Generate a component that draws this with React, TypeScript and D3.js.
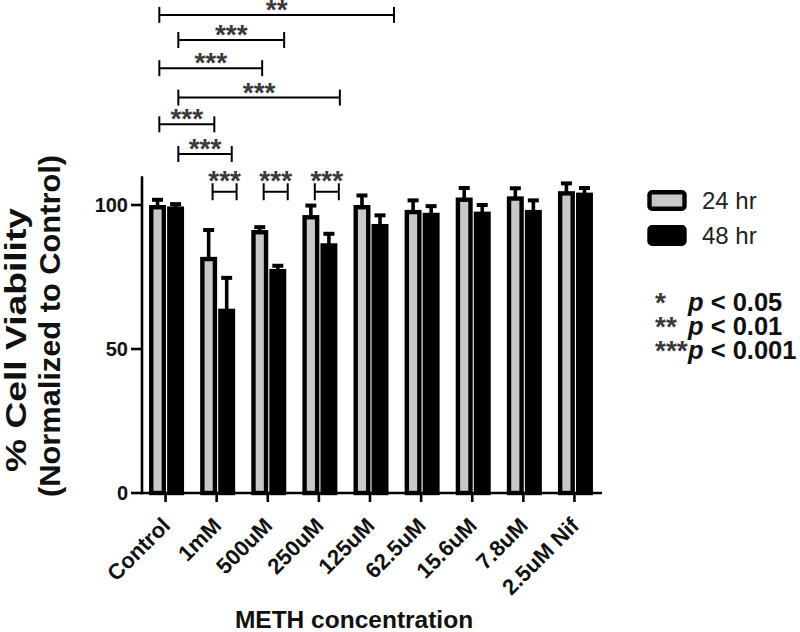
import React from "react";
import * as d3 from "d3";

const categories = ["Control", "1mM", "500uM", "250uM", "125uM", "62.5uM", "15.6uM", "7.8uM", "2.5uM Nif"];
const series = ["24 hr", "48 hr"];
const mean24 = [100, 82, 91.3, 96.5, 100, 98.3, 102.6, 103, 104.8];
const sem24 = [2.5, 10, 1.7, 4, 4, 4, 4, 3.5, 3.4];
const mean48 = [99.5, 64, 77.8, 86.7, 93.4, 97.3, 97.7, 98.3, 104.3];
const sem48 = [1.5, 11.4, 1.8, 4, 3.7, 3, 3, 4, 2.3];
const yTicks = [0, 50, 100];

// comparisons across groups: positions in category-index units
const bigFrom = [-0.122, 0.25, -0.122, 0.25, -0.122, 0.25];
const bigTo = [4.47, 2.32, 1.89, 3.41, 0.954, 1.295];
const bigLevel = [166, 157.3, 147.5, 137.3, 128, 117.7];
const bigLabel = ["**", "***", "***", "***", "***", "***"];

// within-group comparisons (24 hr vs 48 hr)
const pairCats = ["1mM", "500uM", "250uM"];
const pairLabel = ["***", "***", "***"];
const pairLevel = 104.6;

const pLegendStars = ["*", "**", "***"];
const pLegendText = [" < 0.05", " < 0.01", " < 0.001"];

const FONT = "'Liberation Sans', Arial, Helvetica, sans-serif";

export default function App() {
  const x0 = d3.scaleBand<string>().domain(categories).range([140, 600]);
  const center = (c: string) => (x0(c) as number) + x0.bandwidth() / 2;
  const xPos = d3.scaleLinear().domain([0, categories.length - 1]).range([center(categories[0]), center(categories[categories.length - 1])]);
  const x1 = d3.scaleBand<string>().domain(series).range([-16.5, 18.5]).paddingInner(0.06);
  const y = d3.scaleLinear().domain([0, 110]).range([493, 176.2]);
  const sw = 4.4;
  const colors: Record<string, string> = { "24 hr": "#c8c8c8", "48 hr": "#000000" };
  const means: Record<string, number[]> = { "24 hr": mean24, "48 hr": mean48 };
  const sems: Record<string, number[]> = { "24 hr": sem24, "48 hr": sem48 };
  const starColor = "#3a3a3a";

  return (
    <svg width={800} height={632} style={{ position: "absolute", left: 0, top: 0, background: "#fff" }} fontFamily={FONT}>
      {/* bars */}
      {categories.map((c, i) => (
        <g key={c}>
          {series.map((s) => {
            const v = means[s][i];
            const e = sems[s][i];
            const bx = center(c) + (x1(s) as number);
            const bw = x1.bandwidth();
            const cx = bx + bw / 2;
            return (
              <g key={s}>
                <line x1={cx} x2={cx} y1={y(v) + 2} y2={y(v + e) + 2} stroke="#000" strokeWidth={3.6} />
                <line x1={cx - 5.5} x2={cx + 5.5} y1={y(v + e) + 2} y2={y(v + e) + 2} stroke="#000" strokeWidth={4} />
                <rect x={bx + sw / 2} width={bw - sw} y={y(v) + sw / 2} height={y(0) - y(v) - sw / 2} fill={colors[s]} stroke="#000" strokeWidth={sw} />
              </g>
            );
          })}
        </g>
      ))}

      {/* y axis */}
      <line x1={142} x2={142} y1={y(0) + 1.3} y2={y(110)} stroke="#000" strokeWidth={2.6} />
      {yTicks.map((t) => (
        <g key={t}>
          <line x1={131} x2={142} y1={y(t)} y2={y(t)} stroke="#000" strokeWidth={2.6} />
          <text x={128} y={y(t) + 7.2} textAnchor="end" fontSize={20} fontWeight="bold" fill="#111">{t}</text>
        </g>
      ))}

      {/* x axis */}
      <line x1={141} x2={602} y1={y(0)} y2={y(0)} stroke="#000" strokeWidth={2.6} />
      {categories.map((c) => (
        <g key={c}>
          <line x1={center(c)} x2={center(c)} y1={y(0)} y2={y(0) + 9} stroke="#000" strokeWidth={2.6} />
          <text transform={`translate(${center(c) + 6},527) rotate(-45)`} textAnchor="end" fontSize={22} fontWeight="bold" fill="#111">{c}</text>
        </g>
      ))}

      {/* axis titles */}
      <text x={354} y={628} textAnchor="middle" fontSize={24.5} fontWeight="bold" fill="#111">METH concentration</text>
      <text transform="translate(26,340) rotate(-90)" textAnchor="middle" fontSize={30} fontWeight="bold" fill="#111" textLength={264} lengthAdjust="spacingAndGlyphs">% Cell Viability</text>
      <text transform="translate(59.5,326) rotate(-90)" textAnchor="middle" fontSize={30} fontWeight="bold" fill="#111" textLength={342} lengthAdjust="spacingAndGlyphs">(Normalized to Control)</text>

      {/* between-group brackets */}
      {bigFrom.map((f, i) => {
        const xa = xPos(f);
        const xb = xPos(bigTo[i]);
        const ly = y(bigLevel[i]);
        return (
          <g key={i}>
            <line x1={xa} x2={xb} y1={ly} y2={ly} stroke="#000" strokeWidth={2} />
            <line x1={xa} x2={xa} y1={ly - 8} y2={ly + 8} stroke="#000" strokeWidth={2} />
            <line x1={xb} x2={xb} y1={ly - 8} y2={ly + 8} stroke="#000" strokeWidth={2} />
            <text x={(xa + xb) / 2} y={ly + 4} textAnchor="middle" fontSize={28} fontWeight="bold" fill={starColor}>{bigLabel[i]}</text>
          </g>
        );
      })}

      {/* within-group brackets */}
      {pairCats.map((c, i) => {
        const idx = categories.indexOf(c);
        const xa = xPos(idx - 0.08);
        const xb = xPos(idx + 0.39);
        const ly = y(pairLevel);
        return (
          <g key={c}>
            <line x1={xa} x2={xb} y1={ly} y2={ly} stroke="#000" strokeWidth={2} />
            <line x1={xa} x2={xa} y1={ly - 8.5} y2={ly + 8.5} stroke="#000" strokeWidth={2} />
            <line x1={xb} x2={xb} y1={ly - 8.5} y2={ly + 8.5} stroke="#000" strokeWidth={2} />
            <text x={(xa + xb) / 2} y={ly - 1.5} textAnchor="middle" fontSize={28} fontWeight="bold" fill={starColor}>{pairLabel[i]}</text>
          </g>
        );
      })}

      {/* legend */}
      {series.map((s, i) => {
        const ty = i === 0 ? 190 : 225;
        return (
          <g key={s}>
            <rect x={647.3 + 2.2} y={ty + 2.2} width={39.4 - 4.4} height={21 - 4.4} rx={2.5} fill={colors[s]} stroke="#000" strokeWidth={4.4} />
            <text x={702} y={ty + 18.5} fontSize={24} fill="#222">{s}</text>
          </g>
        );
      })}

      {pLegendStars.map((st, i) => {
        const by = 311 + i * 24;
        return (
          <text key={i} y={by} fontWeight="bold" fill="#111">
            <tspan x={655} dy={1} fontSize={28} fill={starColor}>{st}</tspan>
            <tspan x={688} dy={-1} fontSize={25.5} fontStyle="italic">p</tspan>
            <tspan fontSize={25.5}>{pLegendText[i]}</tspan>
          </text>
        );
      })}
    </svg>
  );
}
